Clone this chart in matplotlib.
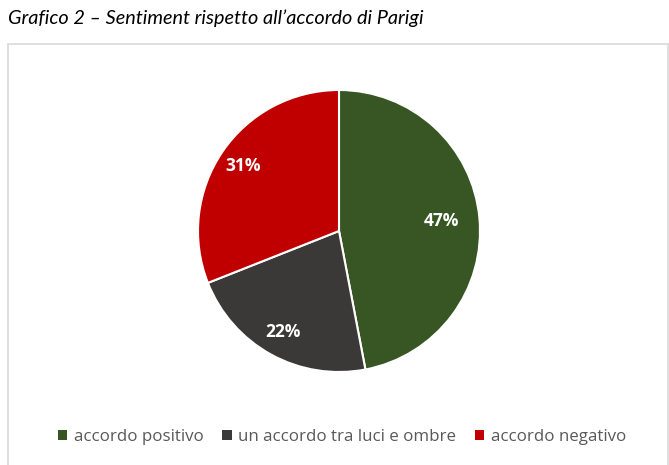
import numpy as np
import matplotlib.pyplot as plt
from matplotlib.patches import Rectangle, Patch

# Data
labels = ["accordo positivo", "un accordo tra luci e ombre", "accordo negativo"]
values = [47, 22, 31]
colors = ["#375623", "#3B3838", "#C00000"]
label_radius = [0.73, 0.82, 0.82]

W, H = 669, 465
fig = plt.figure(figsize=(W / 100, H / 100), dpi=100)

# chart box border
fig.patches.append(Rectangle((8 / W, -0.01), 659.5 / W, 1 - 44.5 / H + 0.01,
                             transform=fig.transFigure, fill=False,
                             edgecolor="#D9D9D9", linewidth=1.2))

# title
fig.text(8 / W, 1 - 24 / H, "Grafico 2 \u2013 Sentiment rispetto all\u2019accordo di Parigi",
         fontfamily="Lato", fontstyle="italic", fontsize=14.3, ha="left",
         va="baseline", color="#000000")

# pie
cx, cy, r = 339, 231, 141
ax = fig.add_axes([(cx - r) / W, (H - cy - r) / H, 2 * r / W, 2 * r / H])
wedges, _ = ax.pie(values, colors=colors, startangle=90, counterclock=False,
                   radius=1, wedgeprops=dict(edgecolor="white", linewidth=1.5))
for w, v, lr in zip(wedges, values, label_radius):
    ang = np.deg2rad((w.theta1 + w.theta2) / 2)
    ax.text(lr * np.cos(ang), lr * np.sin(ang), f"{v}%", ha="center", va="center",
            color="white", fontsize=12.5, fontweight="bold", fontfamily="Open Sans")
ax.set_xlim(-1, 1)
ax.set_ylim(-1, 1)
ax.set_aspect("equal")
ax.axis("off")

# legend
handles = [Patch(facecolor=c, edgecolor="none") for c in colors]
fig.legend(handles, labels, loc="center", bbox_to_anchor=(342 / W, 1 - 437 / H),
           ncol=3, frameon=False, handlelength=0.55, handleheight=0.55,
           handletextpad=0.4, columnspacing=1.1,
           prop=dict(family="Open Sans", size=12.2), labelcolor="#595959")

fig.savefig("out.png", dpi=100)
